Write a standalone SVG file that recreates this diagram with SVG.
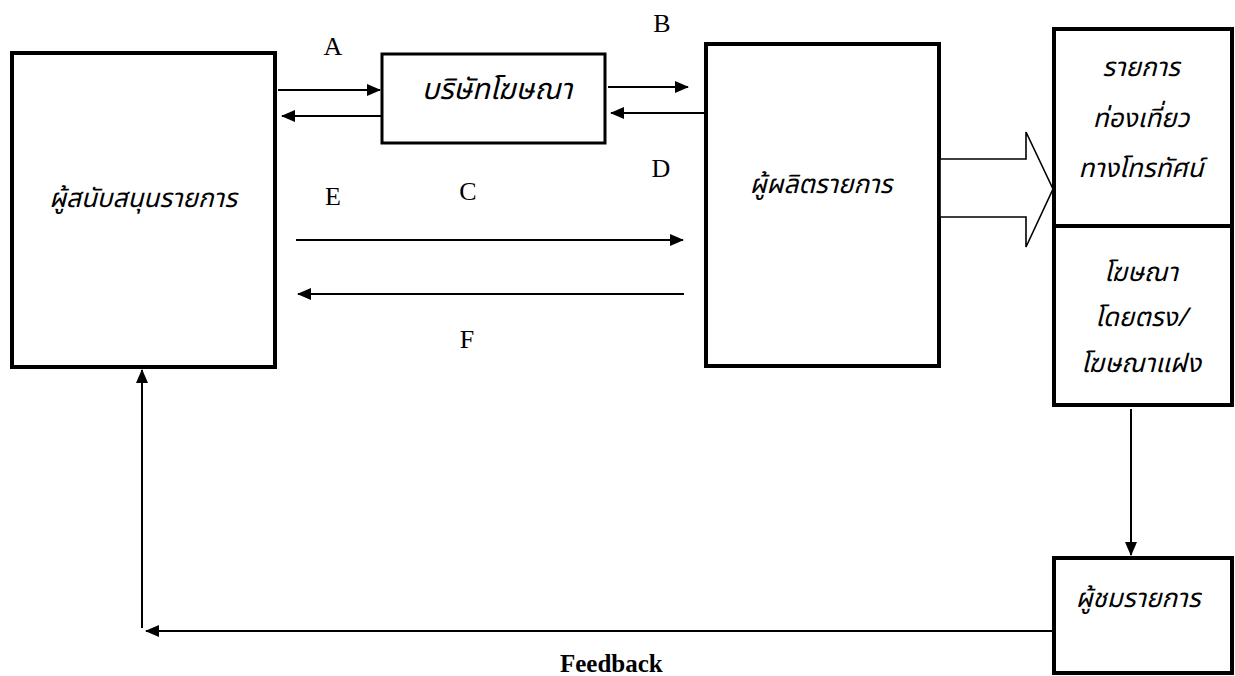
<svg xmlns="http://www.w3.org/2000/svg" width="1235" height="676" viewBox="0 0 1235 676">
<style>
.box{fill:#fff;stroke:#000;stroke-width:4}
.thin{fill:#fff;stroke:#000;stroke-width:3}
.th{font-family:"Noto Sans Thai","Noto Sans","DejaVu Sans",sans-serif;font-style:italic;font-size:26px;fill:#000;text-anchor:middle}
.big{font-size:29px}
.lb{font-family:"Liberation Serif","Times New Roman",serif;font-size:26px;fill:#000;text-anchor:middle}
.fb{font-family:"Liberation Serif","Times New Roman",serif;font-size:25px;font-weight:bold;fill:#000}
.cn{stroke:#000;stroke-width:2;fill:none;marker-end:url(#ah)}
</style>
<defs>
<marker id="ah" markerUnits="userSpaceOnUse" markerWidth="14" markerHeight="12" refX="13" refY="6" orient="auto">
<path d="M0,0 L14,6 L0,12 z" fill="#000"/>
</marker>
</defs>
<rect width="1235" height="676" fill="#fff"/>
<g id="sponsor">
<rect class="box" x="12" y="53" width="263" height="314"/>
<text class="th" x="143" y="207">ผู้สนับสนุนรายการ</text>
</g>
<g id="adagency">
<rect class="thin" x="382" y="54" width="223" height="89"/>
<text class="th big" x="497" y="99">บริษัทโฆษณา</text>
</g>
<g id="producer">
<rect class="box" x="706" y="44" width="233" height="322"/>
<text class="th" x="821" y="193">ผู้ผลิตรายการ</text>
</g>
<g id="program">
<rect class="box" x="1054" y="29" width="178" height="197"/>
<text class="th" x="1141" y="76">รายการ</text>
<text class="th" x="1141" y="127">ท่องเที่ยว</text>
<text class="th" x="1141" y="177">ทางโทรทัศน์</text>
</g>
<g id="advertising">
<rect class="box" x="1054" y="226" width="178" height="179"/>
<text class="th" x="1141" y="281">โฆษณา</text>
<text class="th" x="1141" y="326">โดยตรง/</text>
<text class="th" x="1141" y="372">โฆษณาแฝง</text>
</g>
<g id="viewer">
<rect class="box" x="1054" y="558" width="178" height="115"/>
<text class="th" x="1138" y="607">ผู้ชมรายการ</text>
</g>
<g id="connectors">
<line class="cn" x1="278" y1="90" x2="380" y2="90"/>
<line class="cn" x1="381" y1="116" x2="282" y2="116"/>
<line class="cn" x1="608" y1="87" x2="688" y2="87"/>
<line class="cn" x1="704" y1="113" x2="611" y2="113"/>
<line class="cn" x1="296" y1="240" x2="683" y2="240"/>
<line class="cn" x1="684" y1="294" x2="298" y2="294"/>
<polygon points="940,159 1026,159 1026,132 1053,189 1026,247 1026,217 940,217" fill="#fff" stroke="#000" stroke-width="1.6"/>
<line class="cn" x1="1131" y1="409" x2="1131" y2="555"/>
<line class="cn" x1="1053" y1="631" x2="146" y2="631"/>
<line class="cn" x1="142" y1="628" x2="142" y2="370"/>
</g>
<g id="labels">
<text class="lb" x="333" y="55">A</text>
<text class="lb" x="662" y="32">B</text>
<text class="lb" x="468" y="200">C</text>
<text class="lb" x="661" y="177">D</text>
<text class="lb" x="333" y="205">E</text>
<text class="lb" x="467" y="348">F</text>
<text class="fb" x="560" y="672">Feedback</text>
</g>
</svg>
